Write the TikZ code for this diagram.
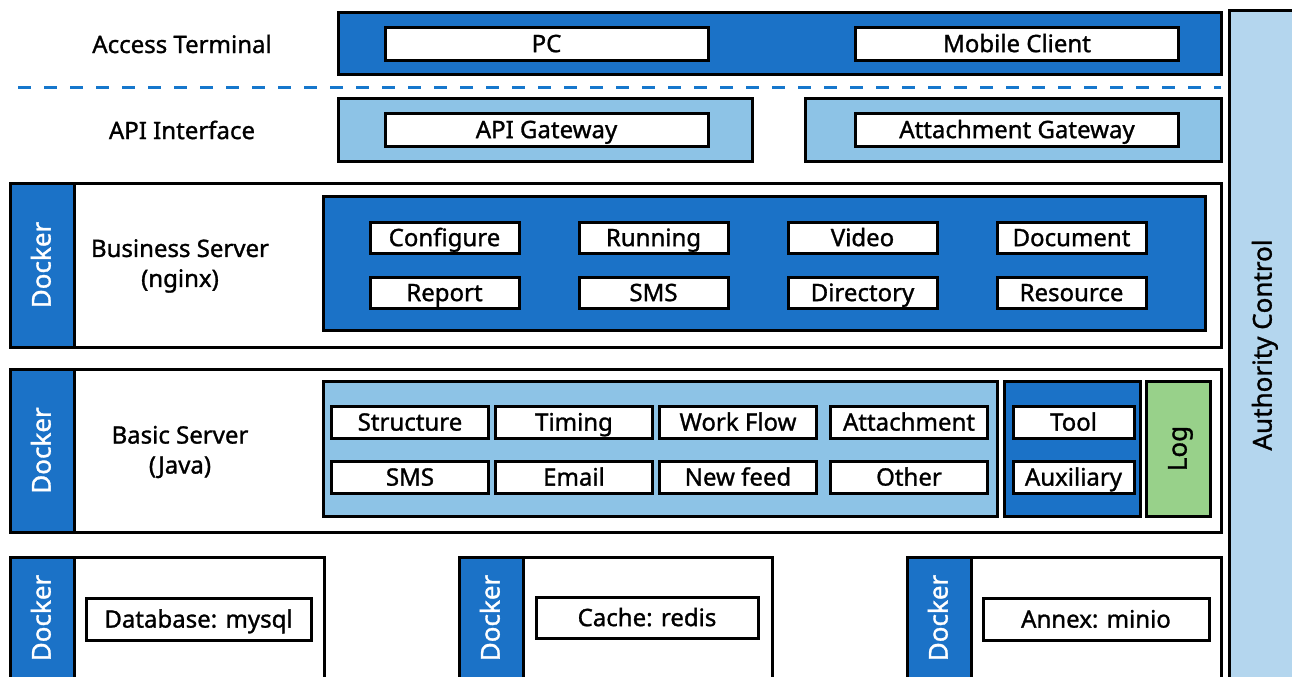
\documentclass[tikz,border=0pt]{standalone}
\usepackage{fontspec}
\setmainfont{Noto Sans}[FakeBold=1.2]
\usetikzlibrary{positioning}

\definecolor{darkblue}{HTML}{1B72C7}
\definecolor{lightblue}{HTML}{8DC3E6}
\definecolor{paleblue}{HTML}{B4D6EE}
\definecolor{loggreen}{HTML}{98D18A}
\definecolor{dashblue}{HTML}{1677CC}

\begin{document}
\begin{tikzpicture}[x=0.5pt, y=-0.5pt, node distance=12pt and 30pt,
        every node/.style={inner sep=0pt, outer sep=0pt, font=\fontsize{12}{15}\selectfont},
        frame/.style={draw=black, line width=1.5pt, fill=white, text height=8.6pt, text depth=0pt},
        panel/.style={frame, fill=#1},
        item/.style={frame, minimum width=74.5pt, minimum height=15.5pt},
        wideitem/.style={frame, minimum width=161.5pt, minimum height=16.5pt},
        basitem/.style={frame, minimum width=78.5pt, minimum height=16pt},
        docker/.style={frame, fill=darkblue, text=white, rotate=90, minimum height=32pt, font=\fontsize{13}{15}\selectfont},
        layer/.style={align=center}]
    \path[use as bounding box, clip] (0,0) rectangle (1292,676);

    % access terminal
    \node[layer] (term) at (182,44) {Access Terminal};
    \node[panel=darkblue, minimum width=441.5pt, minimum height=31pt] (access) at (779.5,43) {};
    \node[wideitem] (pc) at (546.5,43.5) {PC};
    \node[wideitem] (mobile) at (1017,43.5) {Mobile Client};

    \coordinate (cutL) at (18,87);
    \coordinate (cutR) at (1221,87);
    \draw[dashblue, line width=1.5pt, dash pattern=on 6.5pt off 6.5pt] (cutL) -- (cutR);

    % api interface
    \node[layer] (api) at (182,130) {API Interface};
    \node[panel=lightblue, minimum width=207pt, minimum height=31.5pt] (apibox) at (545,129.5) {};
    \node[panel=lightblue, minimum width=208pt, minimum height=31.5pt] (attbox) at (1013,129.5) {};
    \node[wideitem] (apigw) at (546.5,129.5) {API Gateway};
    \node[wideitem] (attgw) at (1017,129.5) {Attachment Gateway};

    % business server
    \node[frame, minimum width=605.5pt, minimum height=82pt] (business) at (615.5,265) {};
    \node[docker, minimum width=82pt] (dock1) at (42,265) {Docker};
    \node[layer] (bizlabel) at (180,266) {Business Server\\(nginx)};
    \node[panel=darkblue, minimum width=441pt, minimum height=67pt] (bizpanel) at (764,263) {};
    \node[item] (conf) at (444.5,237.5) {Configure};
    \node[item, right=of conf] (run) {Running};
    \node[item, right=of run] (video) {Video};
    \node[item, right=of video] (doc) {Document};
    \node[item, below=of conf] (report) {Report};
    \node[item, below=of run] (bizsms) {SMS};
    \node[item, below=of video] (dir) {Directory};
    \node[item, below=of doc] (res) {Resource};

    % basic server
    \node[frame, minimum width=605.5pt, minimum height=81.5pt] (basic) at (615.5,450.5) {};
    \node[docker, minimum width=81.5pt] (dock2) at (42,450.5) {Docker};
    \node[layer] (baslabel) at (180,452) {Basic Server\\(Java)};
    \node[panel=lightblue, minimum width=337pt, minimum height=67.5pt] (baspanel) at (660,448.5) {};
    \node[panel=darkblue, minimum width=68pt, minimum height=67.5pt] (toolpanel) at (1072,448.5) {};
    \node[panel=loggreen, rotate=90, minimum width=67.5pt, minimum height=32pt, font=\fontsize{13}{15}\selectfont] (log) at (1178,448.5) {Log};
    \node[basitem] (struct) at (410,422) {Structure};
    \node[basitem, right=3.5pt of struct] (timing) {Timing};
    \node[basitem, right=3.5pt of timing] (flow) {Work Flow};
    \node[basitem, right=7pt of flow] (attach) {Attachment};
    \node[basitem, below=11.5pt of struct] (bassms) {SMS};
    \node[basitem, below=11.5pt of timing] (email) {Email};
    \node[basitem, below=11.5pt of flow] (feed) {New feed};
    \node[basitem, below=11.5pt of attach] (other) {Other};
    \node[frame, minimum width=60.5pt, minimum height=16pt] (tool) at (1073.5,422) {Tool};
    \node[frame, minimum width=60.5pt, minimum height=16pt, below=11.5pt of tool] (aux) {Auxiliary};

    % storage
    \node[frame, minimum width=157pt, minimum height=61pt] (dbbox) at (167,618) {};
    \node[docker, minimum width=61pt] (dock3) at (42,618) {Docker};
    \node[frame, minimum width=112.5pt, minimum height=21pt] (mysql) at (198.5,619) {Database: mysql};
    \node[frame, minimum width=156.5pt, minimum height=61pt] (cachebox) at (615.5,618) {};
    \node[docker, minimum width=61pt] (dock4) at (491,618) {Docker};
    \node[frame, minimum width=111pt, minimum height=20.5pt] (redis) at (647,617.5) {Cache: redis};
    \node[frame, minimum width=157pt, minimum height=61pt] (annexbox) at (1064,618) {};
    \node[docker, minimum width=61pt] (dock5) at (939,618) {Docker};
    \node[frame, minimum width=113pt, minimum height=21pt] (minio) at (1096,619) {Annex: minio};

    % authority
    \node[panel=paleblue, rotate=90, minimum width=335pt, minimum height=34pt, font=\fontsize{13}{15}\selectfont] (auth) at (1263,345) {Authority Control};
\end{tikzpicture}
\end{document}
